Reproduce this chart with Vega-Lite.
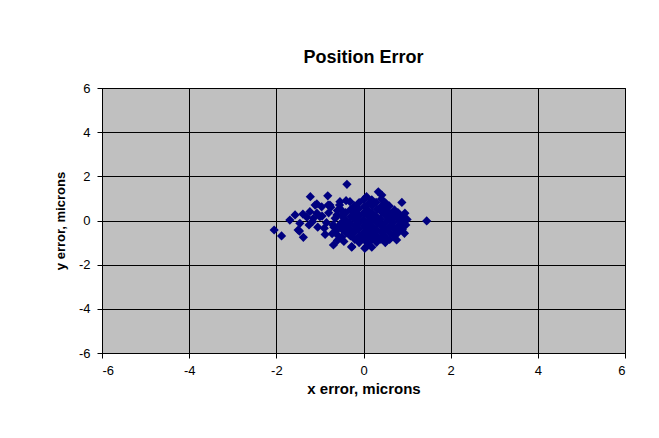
{
  "$schema": "https://vega.github.io/schema/vega-lite/v6.json",
  "width": 523,
  "height": 265,
  "autosize": {"type": "none"},
  "padding": {"left": 102, "top": 88, "right": 34, "bottom": 85},
  "background": "white",
  "title": {"text": "Position Error", "font": "Liberation Sans", "fontSize": 18, "fontWeight": "bold", "color": "black", "offset": 15, "anchor": "middle"},
  "config": {
    "view": {"fill": "#C0C0C0", "stroke": "black", "strokeWidth": 1},
    "axis": {"gridColor": "black", "gridOpacity": 1, "gridWidth": 1, "domainColor": "black", "tickColor": "black", "tickSize": 5, "labelFont": "Liberation Sans", "labelFontSize": 13, "labelColor": "black", "titleFont": "Liberation Sans", "titleFontWeight": "bold", "titleColor": "black"}
  },
  "data": {"values": [
    {"x": -0.38, "y": 1.64}, {"x": -1.22, "y": 1.08}, {"x": -0.82, "y": 1.12}, {"x": -1.07, "y": 0.75},
    {"x": 0.34, "y": 1.3}, {"x": 0.42, "y": 1.15}, {"x": 0.88, "y": 0.82}, {"x": 0.95, "y": 0.33},
    {"x": 1.45, "y": -0.02}, {"x": -2.05, "y": -0.43}, {"x": -1.88, "y": -0.7}, {"x": -1.38, "y": -0.76},
    {"x": -1.47, "y": -0.48}, {"x": -1.69, "y": 0.02}, {"x": -1.57, "y": 0.25}, {"x": -1.39, "y": 0.29},
    {"x": -0.88, "y": -0.63}, {"x": -0.69, "y": -1.11}, {"x": -0.58, "y": -0.69}, {"x": -0.27, "y": -1.21},
    {"x": 0.03, "y": -1.26}, {"x": 0.19, "y": -1.21}, {"x": 0.53, "y": -0.91}, {"x": 0.76, "y": -0.88},
    {"x": 0.94, "y": -0.58}, {"x": 0.84, "y": -0.35}, {"x": -1.17, "y": -0.05}, {"x": -1.07, "y": 0.33},
    {"x": -0.96, "y": 0.62}, {"x": -0.77, "y": 0.7}, {"x": -0.54, "y": 0.85}, {"x": -0.31, "y": 0.85},
    {"x": 0.07, "y": 1.08}, {"x": -1.46, "y": -0.13}, {"x": -1.5, "y": -0.43}, {"x": -1.11, "y": 0.7},
    {"x": -0.81, "y": 0.7}, {"x": -1.0, "y": 0.17}, {"x": -1.23, "y": 0.4}, {"x": -0.61, "y": 0.25},
    {"x": -0.46, "y": -0.28}, {"x": -0.27, "y": -1.18}, {"x": 0.07, "y": -1.18},
    {"x": -0.6, "y": 0.45}, {"x": -0.65, "y": 0.1}, {"x": -0.7, "y": -0.2}, {"x": -0.62, "y": -0.45},
    {"x": -0.8, "y": 0.35}, {"x": -0.85, "y": -0.1}, {"x": -0.9, "y": -0.35}, {"x": -0.75, "y": 0.6},
    {"x": -0.55, "y": 0.7}, {"x": -0.95, "y": 0.2}, {"x": -1.15, "y": 0.1}, {"x": -1.25, "y": -0.2},
    {"x": -1.05, "y": -0.3}, {"x": -1.3, "y": 0.15}, {"x": -0.72, "y": -0.6}, {"x": -0.5, "y": -0.75},
    {"x": -0.45, "y": -0.95}, {"x": -0.4, "y": 0.9}, {"x": -0.6, "y": -0.9}, {"x": 1.0, "y": 0.05},
    {"x": 0.97, "y": -0.2}, {"x": -0.55, "y": -0.2}, {"x": -0.52, "y": 0.5}, {"x": -0.68, "y": -0.3},
    {"x": 0.01, "y": 0.96}, {"x": 0.19, "y": 0.94}, {"x": 0.41, "y": 0.97},
    {"x": -0.1, "y": 0.81}, {"x": 0.12, "y": 0.78}, {"x": 0.29, "y": 0.82}, {"x": 0.51, "y": 0.79},
    {"x": -0.21, "y": 0.66}, {"x": 0.02, "y": 0.63}, {"x": 0.2, "y": 0.67}, {"x": 0.41, "y": 0.64}, {"x": 0.59, "y": 0.66},
    {"x": -0.3, "y": 0.49}, {"x": -0.12, "y": 0.52}, {"x": 0.1, "y": 0.48}, {"x": 0.31, "y": 0.51}, {"x": 0.49, "y": 0.5}, {"x": 0.71, "y": 0.48},
    {"x": -0.41, "y": 0.36}, {"x": -0.2, "y": 0.33}, {"x": 0.01, "y": 0.36}, {"x": 0.2, "y": 0.34}, {"x": 0.42, "y": 0.37}, {"x": 0.6, "y": 0.34}, {"x": 0.79, "y": 0.36},
    {"x": -0.5, "y": 0.21}, {"x": -0.29, "y": 0.19}, {"x": -0.1, "y": 0.22}, {"x": 0.11, "y": 0.2}, {"x": 0.3, "y": 0.18}, {"x": 0.51, "y": 0.21}, {"x": 0.7, "y": 0.19}, {"x": 0.89, "y": 0.2},
    {"x": -0.41, "y": 0.04}, {"x": -0.2, "y": 0.06}, {"x": 0.0, "y": 0.04}, {"x": 0.21, "y": 0.05}, {"x": 0.39, "y": 0.06}, {"x": 0.61, "y": 0.04}, {"x": 0.8, "y": 0.06},
    {"x": -0.5, "y": -0.09}, {"x": -0.31, "y": -0.11}, {"x": -0.1, "y": -0.1}, {"x": 0.1, "y": -0.09}, {"x": 0.31, "y": -0.11}, {"x": 0.5, "y": -0.1}, {"x": 0.69, "y": -0.09}, {"x": 0.9, "y": -0.11},
    {"x": -0.39, "y": -0.26}, {"x": -0.2, "y": -0.24}, {"x": 0.01, "y": -0.25}, {"x": 0.2, "y": -0.26}, {"x": 0.4, "y": -0.24}, {"x": 0.61, "y": -0.25}, {"x": 0.8, "y": -0.26},
    {"x": -0.49, "y": -0.4}, {"x": -0.3, "y": -0.41}, {"x": -0.11, "y": -0.39}, {"x": 0.1, "y": -0.4}, {"x": 0.29, "y": -0.41}, {"x": 0.5, "y": -0.39}, {"x": 0.71, "y": -0.4}, {"x": 0.89, "y": -0.41},
    {"x": -0.4, "y": -0.56}, {"x": -0.21, "y": -0.54}, {"x": 0.0, "y": -0.55}, {"x": 0.2, "y": -0.56}, {"x": 0.41, "y": -0.54}, {"x": 0.6, "y": -0.55}, {"x": 0.79, "y": -0.56},
    {"x": -0.3, "y": -0.7}, {"x": -0.1, "y": -0.71}, {"x": 0.11, "y": -0.69}, {"x": 0.3, "y": -0.7}, {"x": 0.49, "y": -0.71}, {"x": 0.7, "y": -0.69},
    {"x": -0.2, "y": -0.85}, {"x": 0.01, "y": -0.86}, {"x": 0.2, "y": -0.84}, {"x": 0.4, "y": -0.85}, {"x": 0.6, "y": -0.86},
    {"x": -0.1, "y": -1.0}, {"x": 0.1, "y": -1.01}, {"x": 0.3, "y": -0.99}, {"x": 0.5, "y": -1.0}
  ]},
  "mark": {"type": "point", "shape": "diamond", "filled": true, "color": "#000080", "opacity": 1, "size": 85},
  "encoding": {
    "x": {"field": "x", "type": "quantitative", "scale": {"domain": [-6, 6], "nice": false, "zero": false}, "axis": {"values": [-6, -4, -2, 0, 2, 4, 6], "labelExpr": "'' + datum.value", "title": "x error, microns", "titleFontSize": 15, "labelPadding": 6, "titlePadding": 4}},
    "y": {"field": "y", "type": "quantitative", "scale": {"domain": [-6, 6], "nice": false, "zero": false}, "axis": {"values": [-6, -4, -2, 0, 2, 4, 6], "labelExpr": "'' + datum.value", "title": "y error, microns", "titleFontSize": 13, "labelPadding": 7, "titlePadding": 11}}
  }
}
